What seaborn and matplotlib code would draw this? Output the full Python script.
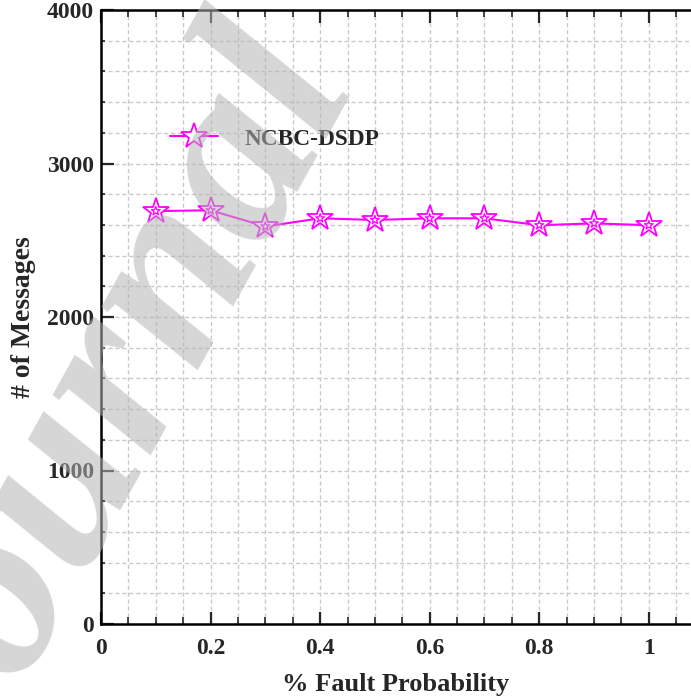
import matplotlib
matplotlib.use("Agg")
import matplotlib.pyplot as plt
import seaborn as sns
import pandas as pd
from matplotlib.ticker import MultipleLocator

fault_prob = [0.1, 0.2, 0.3, 0.4, 0.5, 0.6, 0.7, 0.8, 0.9, 1.0]
messages = [2690, 2695, 2590, 2643, 2632, 2643, 2643, 2598, 2610, 2598]
series_name = "NCBC-DSDP"
x_ticks = [0, 0.2, 0.4, 0.6, 0.8, 1]
x_tick_labels = ["0", "0.2", "0.4", "0.6", "0.8", "1"]
y_ticks = [0, 1000, 2000, 3000, 4000]

df = pd.DataFrame({"x": fault_prob, "y": messages, "s": series_name})

sns.set_style("white")
plt.rcParams["font.family"] = ["Liberation Serif", "DejaVu Serif"]
plt.rcParams["font.weight"] = "bold"

fig = plt.figure(figsize=(6.91, 6.97), dpi=100)
ax = fig.add_axes([101 / 691, 1 - 624 / 697, 1 - 101 / 691, (624 - 10) / 697])

mag = "#ff00ff"
sns.lineplot(data=df, x="x", y="y", hue="s", palette=[mag], ax=ax,
             marker="*", markersize=19, markerfacecolor="white",
             markeredgecolor=mag, markeredgewidth=1.3, linewidth=1.5,
             legend=False, zorder=5)
sns.scatterplot(data=df, x="x", y="y", ax=ax, marker="*", s=45,
                facecolor="none", edgecolor=mag, linewidth=0.9,
                legend=False, zorder=6)

ax.set_xlim(0, 1.077)
ax.set_ylim(0, 4000)
ax.set_xticks(x_ticks)
ax.set_xticklabels(x_tick_labels)
ax.set_yticks(y_ticks)
ax.xaxis.set_minor_locator(MultipleLocator(0.05))
ax.yaxis.set_minor_locator(MultipleLocator(200))

ax.grid(True, which="both", color="#cacaca", linestyle=(0, (3, 2)), linewidth=1.0)
ax.set_axisbelow(True)

for s in ["left", "bottom", "top"]:
    ax.spines[s].set_linewidth(1.8)
    ax.spines[s].set_color("black")
ax.spines["right"].set_visible(False)

ax.tick_params(which="major", direction="in", length=9, width=1.6,
               top=True, bottom=True, left=True, right=False, labelsize=17)
ax.tick_params(which="minor", direction="in", length=5, width=1.2,
               top=True, bottom=True, left=True, right=False)
ax.tick_params(axis="y", which="minor", length=3)
ax.tick_params(axis="x", which="major", pad=10)
ax.tick_params(axis="y", which="major", pad=5)
for lab in ax.get_xticklabels() + ax.get_yticklabels():
    lab.set_fontweight("bold")

ax.set_xlabel("% Fault Probability", fontsize=19, fontweight="bold", labelpad=10)
ax.set_ylabel("# of Messages", fontsize=20, fontweight="bold", labelpad=8)

leg_handle = plt.Line2D([], [], color=mag, marker="*", markersize=19,
                        markerfacecolor="white", markeredgecolor=mag,
                        markeredgewidth=1.3, linewidth=1.5)
leg = ax.legend([leg_handle], [series_name], loc="center left",
                bbox_to_anchor=((170 - 101) / 590, (624 - 139) / 614),
                frameon=False, borderpad=0, borderaxespad=0,
                prop={"weight": "bold", "size": 16.8}, handlelength=2.05,
                handletextpad=1.15)

# watermark
fig.text(0.155, 0.41, "Journal", fontsize=180, fontstyle="italic", fontweight="bold",
         color="#b4b4b4", alpha=0.55, rotation=61, ha="center", va="center",
         zorder=20)

fig.savefig("out.png", dpi=100)
